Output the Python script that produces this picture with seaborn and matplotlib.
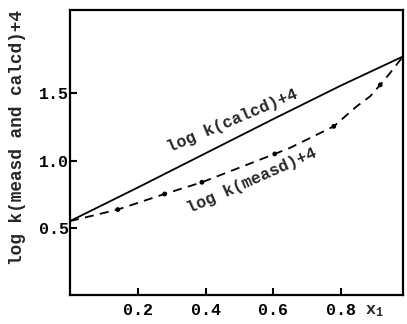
import matplotlib
matplotlib.use("Agg")
import matplotlib.pyplot as plt
import pandas as pd
import seaborn as sns

# Mole fraction x1 and rate constants (log k + 4)
x_calcd = [0.0, 0.2, 0.4, 0.6, 0.8, 0.982]
logk_calcd = [0.55, 0.80, 1.055, 1.31, 1.56, 1.775]

x_measd = [0.0, 0.141, 0.279, 0.389, 0.604, 0.648, 0.778, 0.845, 0.885,
           0.915, 0.944, 0.982]
logk_measd = [0.55, 0.636, 0.752, 0.839, 1.05, 1.094, 1.255, 1.403, 1.478,
              1.564, 1.652, 1.775]

# measured points shown as dots on the curve
x_dots = [0.141, 0.279, 0.389, 0.604, 0.778, 0.915]
y_dots = [0.636, 0.752, 0.839, 1.05, 1.255, 1.564]

x_ticks = [0.2, 0.4, 0.6, 0.8]
x_ticklabels = ["0.2", "0.4", "0.6", "0.8"]
y_ticks = [0.5, 1.0, 1.5]
y_ticklabels = ["0.5", "1.0", "1.5"]

sns.set_style("ticks")
plt.rcParams["font.family"] = ["Liberation Mono", "DejaVu Sans Mono"]
plt.rcParams["font.weight"] = "bold"
plt.rcParams["mathtext.fontset"] = "custom"
plt.rcParams["mathtext.rm"] = "Liberation Mono:bold"
plt.rcParams["mathtext.it"] = "Liberation Mono:bold"

FS = 12

fig = plt.figure(figsize=(4.07, 3.24), dpi=100)
ax = fig.add_axes([0.172, 0.0895, 0.818, 0.88])

calc = pd.DataFrame({"x": x_calcd, "y": logk_calcd})
meas = pd.DataFrame({"x": x_measd, "y": logk_measd})

sns.lineplot(data=calc, x="x", y="y", ax=ax, color="black", lw=1.3)
sns.lineplot(data=meas, x="x", y="y", ax=ax, color="black", lw=1.3)
ax.lines[-1].set_dashes([5, 3.5])
sns.scatterplot(x=x_dots, y=y_dots, ax=ax, color="black", s=12, edgecolor="none")

ax.set_xlim(0, 0.982)
ax.set_ylim(0, 2.122)
ax.set_xticks(x_ticks)
ax.set_xticklabels(x_ticklabels)
ax.set_yticks(y_ticks)
ax.set_yticklabels(y_ticklabels)
ax.tick_params(direction="in", length=5, width=1.5, labelsize=FS, colors="black")
ax.tick_params(axis="x", pad=6)
ax.tick_params(axis="y", pad=1)
for s in ax.spines.values():
    s.set_linewidth(1.6)
    s.set_color("black")

ax.set_xlabel("")
ax.set_ylabel("")
ax.text(-0.158, 0.552, "log k(measd and calcd)+4", transform=ax.transAxes,
        fontsize=12.8, rotation=90, ha="center", va="center")

ax.text(0.915, -0.055, r"x$_1$", transform=ax.transAxes, fontsize=FS,
        ha="center", va="center")

ax.text(0.48, 1.30, "log k(calcd)+4", fontsize=FS, rotation=23,
        ha="center", va="center", rotation_mode="anchor")
ax.text(0.537, 0.85, "log k(measd)+4", fontsize=FS, rotation=24,
        ha="center", va="center", rotation_mode="anchor")

fig.savefig("out.png", dpi=100)
